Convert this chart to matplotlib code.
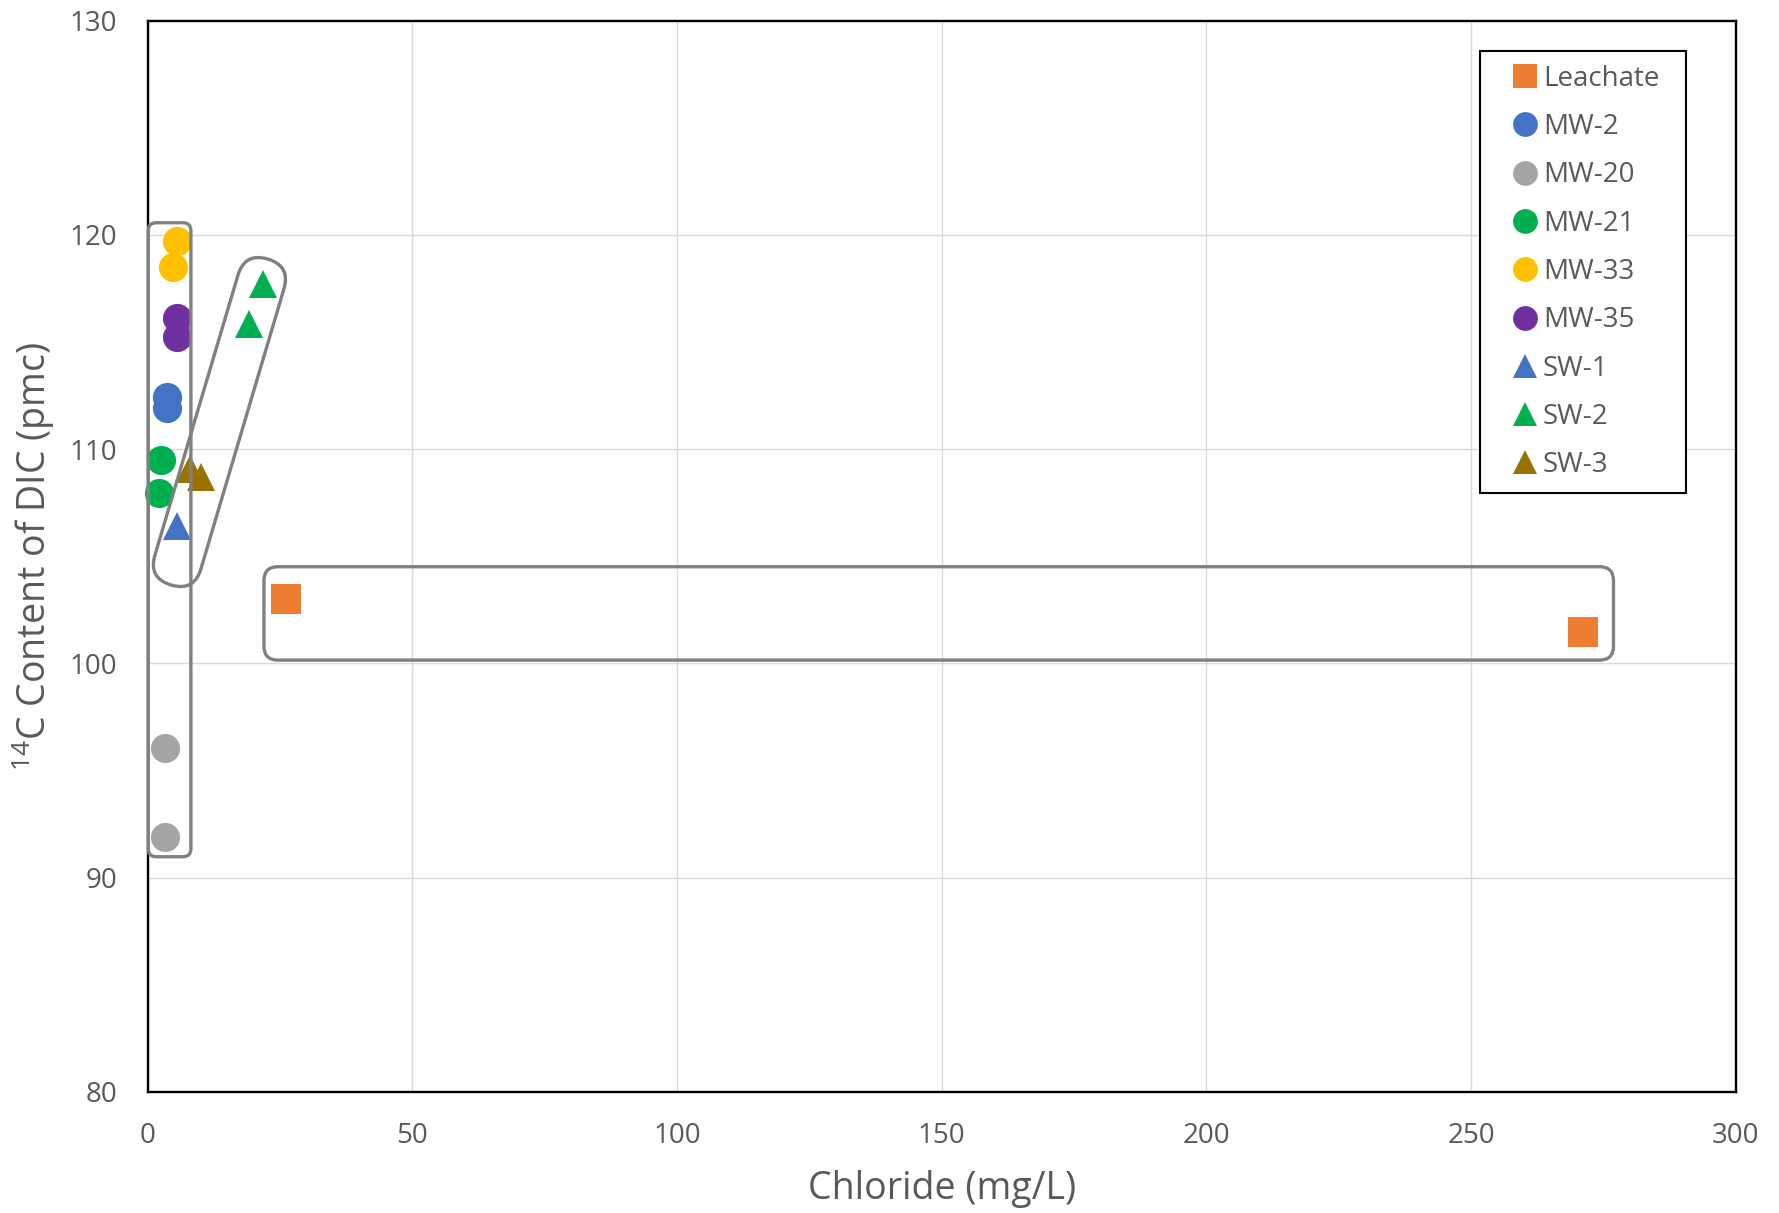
import matplotlib
matplotlib.use('Agg')
import matplotlib.pyplot as plt
from matplotlib.patches import FancyBboxPatch
from matplotlib.transforms import IdentityTransform, Affine2D
import numpy as np

plt.rcParams['font.family'] = ['Open Sans', 'DejaVu Sans']
plt.rcParams['mathtext.fontset'] = 'custom'
plt.rcParams['mathtext.rm'] = 'Open Sans'
plt.rcParams['mathtext.it'] = 'Open Sans'

# ----- DATA (chloride mg/L, 14C pmc)
leachate_x = [26.2, 271.1]
leachate_y = [103.0, 101.45]
mw2_x = [3.7, 3.7]
mw2_y = [112.45, 111.9]
mw20_x = [3.3, 3.3]
mw20_y = [96.05, 91.9]
mw21_x = [2.6, 2.2]
mw21_y = [109.5, 107.95]
mw33_x = [5.5, 4.8]
mw33_y = [119.7, 118.5]
mw35_x = [5.5, 5.5]
mw35_y = [116.1, 115.25]
sw1_x = [5.5]
sw1_y = [106.4]
sw2_x = [21.8, 19.1]
sw2_y = [117.7, 115.85]
sw3_x = [8.0, 10.1]
sw3_y = [109.05, 108.7]

series = [
    ("Leachate", leachate_x, leachate_y, 's', '#ED7D31'),
    ("MW-2", mw2_x, mw2_y, 'o', '#4472C4'),
    ("MW-20", mw20_x, mw20_y, 'o', '#A5A5A5'),
    ("MW-21", mw21_x, mw21_y, 'o', '#00B050'),
    ("MW-33", mw33_x, mw33_y, 'o', '#FFC000'),
    ("MW-35", mw35_x, mw35_y, 'o', '#7030A0'),
    ("SW-1", sw1_x, sw1_y, '^', '#4472C4'),
    ("SW-2", sw2_x, sw2_y, '^', '#00B050'),
    ("SW-3", sw3_x, sw3_y, '^', '#997300'),
]

# ----- grupos destacados (coordenadas de dados)
box_mw = (0.11, 8.17, 90.97, 120.57)        # x0, x1, y0, y1
box_leach = (21.97, 276.9, 100.15, 104.51)
oval_sw = ((5.72, 104.73), (21.4, 117.8))   # extremos do eixo

TXT = '#595959'

fig = plt.figure(figsize=(17.79, 12.13), dpi=100)
ax = fig.add_axes([0.0830, 0.1000, 0.8927, 0.8829])
ax.set_xlim(0, 300)
ax.set_ylim(80, 130)
ax.set_xticks(np.arange(0, 301, 50))
ax.set_yticks(np.arange(80, 131, 10))
ax.grid(True, color='#D9D9D9', lw=1.0, zorder=0)
ax.set_axisbelow(True)
for s in ax.spines.values():
    s.set_color('black')
    s.set_linewidth(1.7)
ax.tick_params(length=0, labelsize=20, labelcolor=TXT)
ax.tick_params(axis='x', pad=22)
ax.tick_params(axis='y', pad=22)

for nome, xs, ys, mk, cor in series:
    ms = 20 if mk == '^' else 21
    ax.plot(xs, ys, linestyle='none', marker=mk, markersize=ms,
            color=cor, markeredgewidth=0, label=nome, zorder=4, clip_on=False)

# ----- formas em pixels
def rounded_box(x0, x1, y0, y1, r):
    p0 = ax.transData.transform((x0, y0))
    p1 = ax.transData.transform((x1, y1))
    patch = FancyBboxPatch((p0[0], p0[1]), p1[0] - p0[0], p1[1] - p0[1],
                           boxstyle=f"round,pad=0,rounding_size={r}",
                           transform=IdentityTransform(), fill=False,
                           edgecolor='#808080', lw=2.4, zorder=3, clip_on=False)
    fig.add_artist(patch)

def stadium(pa, pb, r):
    a = ax.transData.transform(pa)
    b = ax.transData.transform(pb)
    c = (a + b) / 2
    L = np.hypot(*(b - a))
    ang = np.degrees(np.arctan2(b[1] - a[1], b[0] - a[0]))
    patch = FancyBboxPatch((-L / 2 - r, -r), L + 2 * r, 2 * r,
                           boxstyle=f"round,pad=0,rounding_size={r}",
                           transform=Affine2D().rotate_deg(ang).translate(c[0], c[1]),
                           fill=False, edgecolor='#808080', lw=2.4, zorder=3, clip_on=False)
    fig.add_artist(patch)

rounded_box(*box_mw, 8)
rounded_box(*box_leach, 14)
stadium(oval_sw[0], oval_sw[1], 24)

ax.set_xlabel("Chloride (mg/L)", fontsize=27, color=TXT)
ax.set_ylabel(r"$^{14}$C Content of DIC (pmc)", fontsize=27, color=TXT)
ax.xaxis.set_label_coords(0.5, -0.073)
ax.yaxis.set_label_coords(-0.057, 0.5)

leg = ax.legend(loc='upper left', bbox_to_anchor=(0.8387, 0.5, 0.13, 0.4717),
                mode='expand', fontsize=20, markerscale=0.85, handlelength=2.3,
                handletextpad=-0.52, labelspacing=0.73, borderpad=0.5,
                borderaxespad=0, fancybox=False, framealpha=1)
leg.get_frame().set_edgecolor('black')
leg.get_frame().set_linewidth(1.5)
for t in leg.get_texts():
    t.set_color(TXT)
leg.set_zorder(6)

fig.savefig("out.png", dpi=100)
